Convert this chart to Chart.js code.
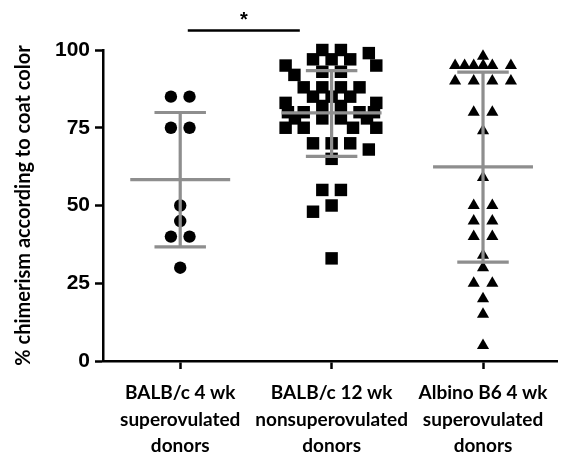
<!DOCTYPE html>
<html><head><meta charset="utf-8">
<script src="https://cdn.jsdelivr.net/npm/chart.js@4"></script>
<style>html,body{margin:0;padding:0;background:#fff}#wrap{width:566px;height:452px}</style>
</head><body><div id="wrap"><canvas id="c" width="566" height="452"></canvas></div>
<script>
// ---- data ----
const categories = [
  ["BALB/c 4 wk", "superovulated", "donors"],
  ["BALB/c 12 wk", "nonsuperovulated", "donors"],
  ["Albino B6 4 wk", "superovulated", "donors"]
];
const balb4wk = [85, 85, 75, 75, 50, 45, 40, 40, 30];
const balb12wk = [100, 100, 99, 97, 97, 97, 95, 95, 93, 93, 92, 88, 88, 88, 88, 85, 85, 85, 83, 83, 82, 82,
  80, 80, 80, 80, 78, 78, 78, 78, 75, 75, 75, 75, 70, 70, 70, 68, 65, 55, 55, 50, 48, 33];
const albinoB6 = [98, 95, 95, 95, 95, 95, 95, 90, 90, 90, 90, 80, 80, 74, 59, 50, 50, 45, 45, 40, 40, 34, 30,
  25, 25, 20, 15, 5];
const groupMeans = [58.3, 79.8, 62.4];
const sdUpper = [79.9, 93.4, 92.9];
const sdLower = [36.7, 65.8, 31.8];
const yTicks = [0, 25, 50, 75, 100];
const yTitle = "% chimerism according to coat color";
const sigLabel = "*";
const sigFrom = 0.05, sigTo = 0.79, sigLevel = 106.3;

// ---- styles ----
const GRAY = "#8e8e8e";
const groups = [balb4wk, balb12wk, albinoB6];
const styles = [
  {pointStyle: "circle", radius: 6.2, wmax: 30},
  {pointStyle: "rect", radius: 8.8, wmax: 46},
  {pointStyle: "triangle", radius: 7, wmax: 37}
];

function errorSegments() {
  const pts = [];
  groups.forEach((_, g) => {
    const m = groupMeans[g], u = sdUpper[g], l = sdLower[g];
    pts.push({x: g - 0.33, y: m}, {x: g + 0.33, y: m}, {x: g, y: null});
    pts.push({x: g, y: l}, {x: g, y: u}, {x: g, y: null});
    pts.push({x: g - 0.17, y: u}, {x: g + 0.17, y: u}, {x: g, y: null});
    pts.push({x: g - 0.17, y: l}, {x: g + 0.17, y: l}, {x: g, y: null});
  });
  return pts;
}

const sigPlugin = {
  id: "sig",
  afterDraw(chart) {
    const {ctx, scales: {x, y}} = chart;
    const x0 = x.getPixelForValue(sigFrom), x1 = x.getPixelForValue(sigTo);
    const yy = y.getPixelForValue(sigLevel);
    ctx.save();
    ctx.strokeStyle = "#000"; ctx.lineWidth = 2.5;
    ctx.beginPath(); ctx.moveTo(x0, yy); ctx.lineTo(x1, yy); ctx.stroke();
    ctx.fillStyle = "#000";
    ctx.font = "bold 20px 'Liberation Sans', Arial, sans-serif";
    ctx.textAlign = "center"; ctx.textBaseline = "middle";
    ctx.fillText(sigLabel, (x0 + x1) / 2, yy - 10);
    ctx.restore();
  }
};

const chart = new Chart(document.getElementById("c"), {
  data: {
    datasets: [
      {type: "line", data: errorSegments(), borderColor: GRAY, borderWidth: 3.2, pointRadius: 0,
        spanGaps: false, borderCapStyle: "butt", order: -1, tension: 0}
    ].concat(groups.map((vals, g) => ({
      type: "scatter",
      data: vals.map(v => ({x: g, y: v})),
      pointStyle: styles[g].pointStyle,
      pointRadius: styles[g].radius,
      backgroundColor: "#000",
      borderColor: "#000",
      borderWidth: 0,
      order: 1
    })))
  },
  options: {
    responsive: false,
    animation: false,
    devicePixelRatio: 1,
    clip: false,
    layout: {padding: {top: 50, right: 0, left: 0, bottom: 0}},
    plugins: {legend: {display: false}, tooltip: {enabled: false}},
    scales: {
      x: {
        type: "linear", min: -0.51, max: 2.49,
        afterBuildTicks: s => { s.ticks = [0, 1, 2].map(v => ({value: v})); },
        afterFit: s => { s.height = 91; },
        ticks: {
          callback: v => categories[v],
          font: {family: "Lato", weight: "bold", size: 19, lineHeight: 1.39},
          color: "#000", padding: 11, maxRotation: 0, autoSkip: false
        },
        grid: {drawOnChartArea: false, drawTicks: true, tickLength: 8, tickColor: "#000", tickWidth: 2.5},
        border: {color: "#000", width: 2.5}
      },
      y: {
        min: 0, max: 100,
        afterBuildTicks: s => { s.ticks = yTicks.map(v => ({value: v})); },
        afterFit: s => { s.width = 103; },
        ticks: {font: {family: "'Liberation Sans'", weight: "bold", size: 21}, color: "#000", padding: 5},
        grid: {drawOnChartArea: false, drawTicks: true, tickLength: 8, tickColor: "#000", tickWidth: 2.5},
        border: {color: "#000", width: 2.5},
        title: {display: true, text: yTitle, color: "#000",
          font: {family: "Lato", weight: "bold", size: 20}, padding: {top: 12, bottom: 0}}
      }
    }
  },
  plugins: [sigPlugin]
});

// horizontal spreading of points (bounded lattice beeswarm) computed from the values via the chart's scales
function swarmOffsets(values, G, Dx, Dy, wmax) {
  const ys = chart.scales.y, xs = chart.scales.x;
  const unit = xs.getPixelForValue(1) - xs.getPixelForValue(0);
  const ties = {};
  values.forEach(v => { ties[v] = (ties[v] || 0) + 1; });
  const idx = values.map((v, i) => i).sort((a, b) => values[b] - values[a]);
  const placed = [];
  const out = new Array(values.length).fill(0);
  const clearance = (dx, py) => placed.reduce((m, p) =>
    Math.min(m, ((p.dx - dx) / Dx) ** 2 + ((p.py - py) / Dy) ** 2), Infinity);
  let flip = 1;
  idx.forEach(i => {
    const py = ys.getPixelForValue(values[i]);
    const even = ties[values[i]] % 2 === 0;
    let best = null;
    for (let k = even ? 1 : 0; k * G <= wmax && best === null; k += 2) {
      const d = k * G;
      const cands = d === 0 ? [0] : [flip * d, -flip * d];
      for (const dx of cands) {
        if (clearance(dx, py) >= 1) { best = dx; break; }
      }
    }
    if (best === null) {
      // crowded row: pick the spot inside the allowed width with the most room
      let bestC = -1;
      for (let dx = -wmax; dx <= wmax + 1e-9; dx += G / 4) {
        const c = clearance(dx, py) - Math.abs(dx) * 1e-4;
        if (c > bestC) { bestC = c; best = dx; }
      }
    }
    if (best !== 0) flip = -Math.sign(best);
    placed.push({dx: best, py});
    out[i] = best / unit;
  });
  return out;
}
groups.forEach((vals, g) => {
  const offs = swarmOffsets(vals, 9.3, 16, 11, styles[g].wmax);
  chart.data.datasets[g + 1].data = vals.map((v, i) => ({x: g + offs[i], y: v}));
});
chart.update("none");
</script></body></html>
